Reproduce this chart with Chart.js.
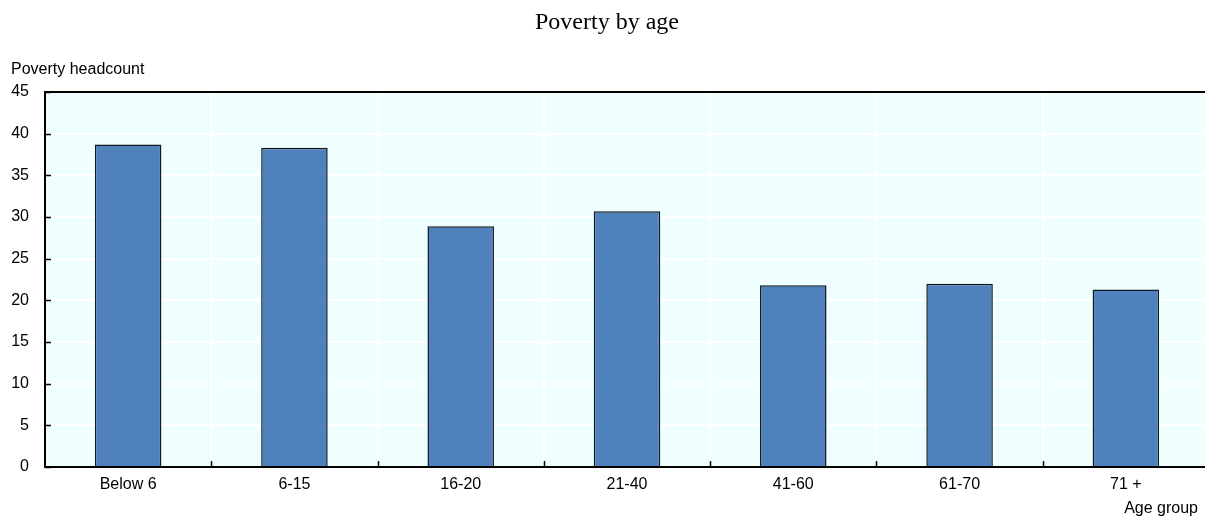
<!DOCTYPE html>
<html>
<head>
<meta charset="utf-8">
<script src="https://cdn.jsdelivr.net/npm/chart.js@4/dist/chart.umd.min.js"></script>
<style>
html,body{margin:0;padding:0;background:#fff;overflow:hidden;}
#wrap{width:1210px;height:517px;position:relative;}
</style>
</head>
<body>
<div id="wrap"><canvas id="c" width="1210" height="517"></canvas></div>
<script>
const chartTitle = "Poverty by age";
const yAxisTitle = "Poverty headcount";
const xAxisTitle = "Age group";
const categories = ["Below 6", "6-15", "16-20", "21-40", "41-60", "61-70", "71 +"];
const povertyHeadcount = [38.7, 38.3, 28.9, 30.7, 21.8, 22.0, 21.3];
const yMin = 0, yMax = 45, yStep = 5;

const FONT = '"Liberation Sans", Arial, sans-serif';

const decor = {
  id: 'decor',
  beforeDraw(chart) {
    const {ctx, chartArea: a} = chart;
    ctx.save();
    ctx.fillStyle = '#EFFEFF';
    ctx.fillRect(a.left, a.top, a.right - a.left, a.bottom - a.top);
    ctx.restore();
  },
  afterDraw(chart) {
    const {ctx, chartArea: a} = chart;
    const x = chart.scales.x, y = chart.scales.y;
    ctx.save();
    // top border
    ctx.strokeStyle = '#000';
    ctx.lineWidth = 2;
    ctx.beginPath();
    ctx.moveTo(a.left - 1, a.top);
    ctx.lineTo(chart.width, a.top);
    ctx.stroke();
    // inner ticks
    ctx.lineWidth = 1.5;
    ctx.beginPath();
    for (let v = yMin; v <= yMax; v += yStep) {
      const py = Math.round(y.getPixelForValue(v)) + 0.5;
      ctx.moveTo(a.left, py);
      ctx.lineTo(a.left + 6, py);
    }
    const half = (x.getPixelForValue(1) - x.getPixelForValue(0)) / 2;
    for (let i = 1; i < categories.length; i++) {
      const px = Math.round(x.getPixelForValue(i) - half) + 0.5;
      ctx.moveTo(px, a.bottom);
      ctx.lineTo(px, a.bottom - 6);
    }
    ctx.stroke();
    // texts
    ctx.fillStyle = '#000';
    ctx.textBaseline = 'alphabetic';
    ctx.font = '24px "Liberation Serif", "Times New Roman", serif';
    ctx.textAlign = 'center';
    ctx.fillText(chartTitle, 607, 29);
    ctx.font = '16px ' + FONT;
    ctx.textAlign = 'left';
    ctx.fillText(yAxisTitle, 11, 74);
    ctx.textAlign = 'right';
    ctx.fillText(xAxisTitle, 1198, 513);
    ctx.restore();
  }
};

new Chart(document.getElementById('c'), {
  type: 'bar',
  data: {
    labels: categories,
    datasets: [{
      label: yAxisTitle,
      data: povertyHeadcount,
      backgroundColor: '#4F81BD',
      borderColor: '#111820',
      borderWidth: 1.5,
      barPercentage: 0.4,
      categoryPercentage: 1.0
    }]
  },
  options: {
    responsive: false,
    animation: false,
    events: [],
    layout: {padding: {top: 92, left: 0, right: 1, bottom: 0}},
    plugins: {legend: {display: false}, title: {display: false}, tooltip: {enabled: false}},
    scales: {
      x: {
        offset: true,
        grid: {color: '#FFFFFF', lineWidth: 2, offset: true, drawTicks: false},
        border: {color: '#000', width: 2},
        ticks: {color: '#000', font: {family: FONT, size: 16}, padding: 8, maxRotation: 0, autoSkip: false},
        afterFit(s) { s.height = 50; }
      },
      y: {
        min: yMin, max: yMax,
        grid: {color: '#FFFFFF', lineWidth: 2, drawTicks: false},
        border: {color: '#000', width: 2},
        ticks: {stepSize: yStep, color: '#000', font: {family: FONT, size: 16}, padding: 16},
        afterFit(s) { s.width = 45; }
      }
    }
  },
  plugins: [decor]
});
</script>
</body>
</html>
